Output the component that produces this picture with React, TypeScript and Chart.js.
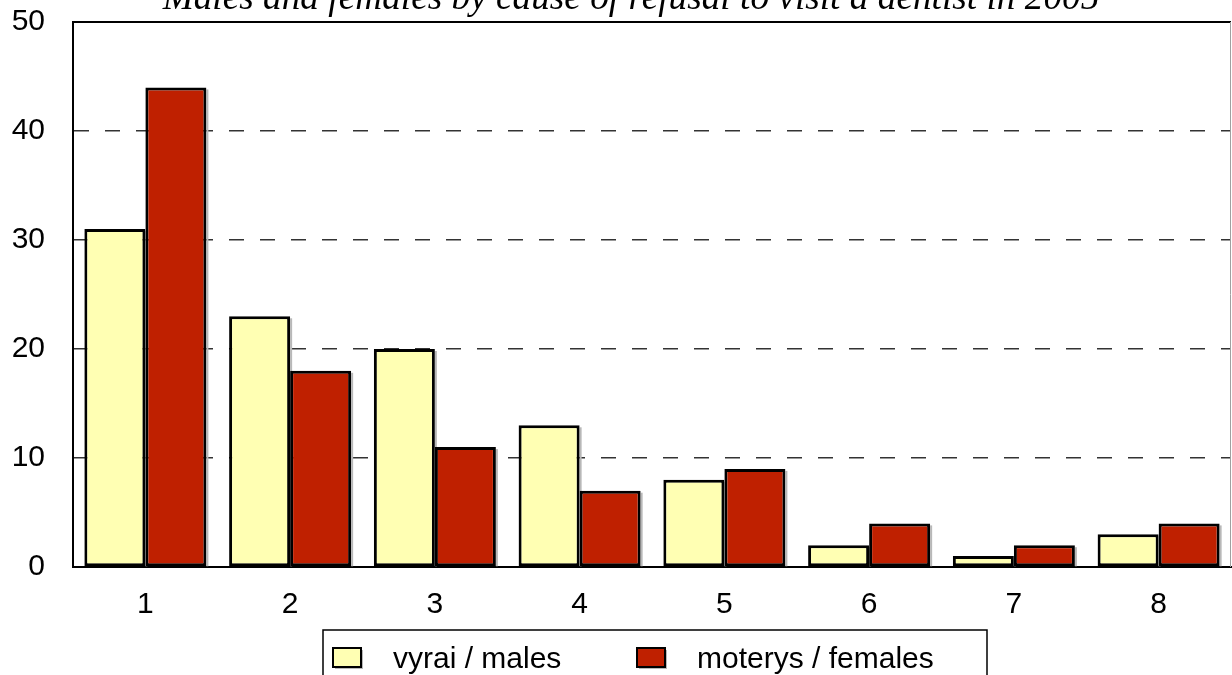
import React, { useEffect, useRef } from "react";
import { Chart, registerables } from "chart.js";

Chart.register(...registerables);

const titleText = "Males and females by cause of refusal to visit a dentist in 2005";
const categories = ["1", "2", "3", "4", "5", "6", "7", "8"];
const males = [31, 23, 20, 13, 8, 2, 1, 3];
const females = [44, 18, 11, 7, 9, 4, 2, 4];
const seriesLabels = ["vyrai / males", "moterys / females"];
const seriesColors = ["#ffffb3", "#bf2000"];
const yMin = 0;
const yMax = 50;
const yStep = 10;

const SANS = '"Liberation Sans", Arial, sans-serif';

const decorPlugin = {
  id: "decor",
  beforeDatasetsDraw(chart: any) {
    const ctx = chart.ctx;
    ctx.save();
    ctx.fillStyle = "#b8b8b8";
    chart.data.datasets.forEach((_: any, di: number) => {
      const meta = chart.getDatasetMeta(di);
      meta.data.forEach((el: any) => {
        const p = el.getProps(["x", "y", "base", "width"], true);
        const right = p.x + p.width / 2;
        ctx.fillRect(right, p.y + 2, 2, p.base - p.y - 2);
      });
    });
    ctx.restore();
  },
  afterDraw(chart: any) {
    const ctx = chart.ctx;
    const a = chart.chartArea;
    ctx.save();
    // frame top / right
    ctx.strokeStyle = "#000";
    ctx.lineWidth = 2;
    ctx.beginPath();
    ctx.moveTo(a.left, a.top);
    ctx.lineTo(a.right, a.top);
    ctx.stroke();
    ctx.strokeStyle = "#a0a0a0";
    ctx.lineWidth = 1;
    ctx.beginPath();
    ctx.moveTo(a.right - 0.5, a.top);
    ctx.lineTo(a.right - 0.5, a.bottom);
    ctx.stroke();

    // title (partly cut off at the top, as in the reference)
    let size = 100;
    ctx.font = `italic ${size}px "Liberation Serif", "Times New Roman", serif`;
    const w = ctx.measureText(titleText).width;
    size = (100 * 937) / w;
    ctx.font = `italic ${size}px "Liberation Serif", "Times New Roman", serif`;
    ctx.fillStyle = "#000";
    ctx.textAlign = "center";
    ctx.textBaseline = "alphabetic";
    ctx.fillText(titleText, 631, 9);

    // legend
    const boxTop = 630;
    const boxLeft = 323;
    const boxRight = 987;
    ctx.strokeStyle = "#000";
    ctx.lineWidth = 1.5;
    ctx.beginPath();
    ctx.moveTo(boxLeft, 676);
    ctx.lineTo(boxLeft, boxTop);
    ctx.lineTo(boxRight, boxTop);
    ctx.lineTo(boxRight, 676);
    ctx.stroke();
    const swatchX = [333, 637];
    const textX = [393, 697];
    ctx.font = `30px ${SANS}`;
    ctx.textAlign = "left";
    chart.data.datasets.forEach((ds: any, i: number) => {
      const sx = swatchX[i];
      ctx.fillStyle = "#b8b8b8";
      ctx.fillRect(sx + 2, 650, 28, 19);
      ctx.fillStyle = ds.backgroundColor;
      ctx.fillRect(sx, 648, 28, 19);
      ctx.strokeStyle = "#000";
      ctx.lineWidth = 2;
      ctx.strokeRect(sx, 648, 28, 19);
      ctx.fillStyle = "#000";
      ctx.fillText(ds.label, textX[i], 668);
    });
    ctx.restore();
  },
};

export default function App() {
  const ref = useRef<HTMLCanvasElement | null>(null);

  useEffect(() => {
    if (!ref.current) return;
    const chart = new Chart(ref.current, {
      type: "bar",
      data: {
        labels: categories,
        datasets: [
          {
            label: seriesLabels[0],
            data: males,
            backgroundColor: seriesColors[0],
            borderColor: "#000",
            borderWidth: 3,
            borderSkipped: false,
          },
          {
            label: seriesLabels[1],
            data: females,
            backgroundColor: seriesColors[1],
            borderColor: "#000",
            borderWidth: 3,
            borderSkipped: false,
          },
        ],
      },
      options: {
        responsive: false,
        animation: false,
        events: [],
        layout: { padding: { top: 22, left: 0, right: 1, bottom: 48 } },
        datasets: {
          bar: { categoryPercentage: 0.843, barPercentage: 1 },
        },
        plugins: {
          legend: { display: false },
          title: { display: false },
          tooltip: { enabled: false },
        },
        scales: {
          x: {
            grid: { display: false, drawTicks: false },
            border: { display: true, color: "#000", width: 2 },
            ticks: {
              color: "#000",
              font: { family: SANS, size: 30 },
              padding: 20,
            },
            afterFit(scale: any) {
              scale.height = 60;
              scale.paddingLeft = 0;
              scale.paddingRight = 0;
            },
          },
          y: {
            min: yMin,
            max: yMax,
            grid: {
              drawTicks: false,
              lineWidth: 1.5,
              color: (c: any) =>
                c.tick && (c.tick.value === yMin || c.tick.value === yMax)
                  ? "rgba(0,0,0,0)"
                  : "#333",
            },
            border: { display: true, color: "#000", width: 2, dash: [15, 16] },
            ticks: {
              stepSize: yStep,
              color: "#000",
              font: { family: SANS, size: 30 },
              padding: 28,
            },
            afterFit(scale: any) {
              scale.width = 73;
              scale.paddingTop = 0;
              scale.paddingBottom = 0;
            },
          },
        },
      },
      plugins: [decorPlugin],
    });
    return () => chart.destroy();
  }, []);

  return (
    <div style={{ position: "absolute", left: 0, top: 0, width: 1232, height: 675 }}>
      <canvas ref={ref} width={1232} height={675} />
    </div>
  );
}
